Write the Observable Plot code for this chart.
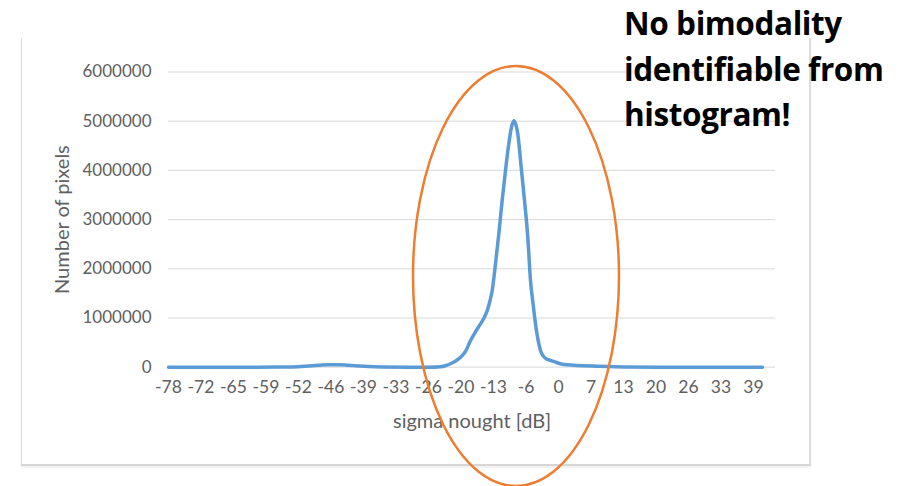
<!DOCTYPE html>
<html>
<head>
<meta charset="utf-8">
<script src="https://cdn.jsdelivr.net/npm/d3@7"></script>
<script src="https://cdn.jsdelivr.net/npm/@observablehq/plot@0.6"></script>
<style>
  html, body { margin: 0; padding: 0; background: #fff; }
  #wrap { position: relative; width: 904px; height: 486px; overflow: hidden; background: #fff; }
  #frame { position: absolute; left: 21px; top: 38px; width: 787px; height: 426px;
           border-left: 1.5px solid #dcdcdc; border-right: 2px solid #dcdcdc; border-bottom: 2px solid #d6d6d6;
           box-shadow: 0 2px 2px rgba(0,0,0,0.06); }
  #chart { position: absolute; left: 0; top: 0; }
  #overlay { position: absolute; left: 0; top: 0; pointer-events: none; }
  #note { position: absolute; left: 624px; top: 0px; font-family: "Open Sans", Lato, sans-serif;
          font-weight: bold; font-size: 31.5px; line-height: 45.5px; color: #000; white-space: nowrap; letter-spacing: -0.4px; }
</style>
</head>
<body>
<div id="wrap">
  <div id="frame"></div>
  <div id="chart"></div>
  <svg id="overlay" width="904" height="486">
    <ellipse cx="516" cy="276" rx="103" ry="210" fill="none" stroke="#ED7D31" stroke-width="2.5"></ellipse>
  </svg>
  <div id="note">No bimodality<br>identifiable from<br>histogram!</div>
</div>
<script>
// sigma nought [dB] bin centres
const sigma = [-78, -70, -60, -55, -52, -50, -48, -46, -44, -42, -40, -38, -35, -30, -26,
  -23.6, -22.5, -21.6, -20.5, -19.6, -18.6, -17.6, -16.6, -15.6, -14.9, -14.26, -13.7, -13.26,
  -12.6, -11.94, -11.26, -10.6, -9.94, -9.4, -8.94, -8.5, -8.14, -7.46, -6.8, -6.14, -5.6,
  -5.1, -4.6, -4.1, -3.6, -3.0, -2.3, -1.6, -0.5, 1.06, 3, 5, 7.74, 10, 14, 20, 30, 40.8];
// number of pixels per bin
const pixels = [0, 0, 0, 3000, 10000, 25000, 38000, 50000, 52000, 40000, 25000, 12000, 4000, 0, 0,
  10000, 35000, 70000, 130000, 200000, 320000, 540000, 720000, 880000, 1000000, 1150000, 1350000, 1560000,
  2100000, 2710000, 3390000, 4000000, 4540000, 4880000, 5010000, 4920000, 4740000, 4060000, 3390000, 2640000, 1760000,
  1300000, 880000, 560000, 340000, 220000, 160000, 140000, 100000, 55000, 40000, 30000, 20000, 12000, 5000, 0, 0, 0];

const xTickPos = [-78, -71.5, -65, -58.5, -52, -45.5, -39, -32.5, -26, -19.5, -13, -6.5, 0, 6.5, 13, 19.5, 26, 32.5, 39];
const xTickLabels = ["-78", "-72", "-65", "-59", "-52", "-46", "-39", "-33", "-26", "-20", "-13", "-6", "0", "7", "13", "20", "26", "33", "39"];
const yTicks = [0, 1000000, 2000000, 3000000, 4000000, 5000000, 6000000];

const data = sigma.map((s, i) => ({sigma: s, pixels: pixels[i]}));
const labelMap = new Map(xTickPos.map((p, i) => [p, xTickLabels[i]]));

const chart = Plot.plot({
  width: 904,
  height: 486,
  marginLeft: 168,
  marginRight: 129,
  marginTop: 71.5,
  marginBottom: 119.3,
  style: {fontFamily: "Lato, 'DejaVu Sans', sans-serif", fontSize: "17px", color: "#606060", background: "transparent"},
  x: {domain: [-78, 43.4]},
  y: {domain: [0, 6000000]},
  marks: [
    Plot.gridY(yTicks, {stroke: "#d9d9d9", strokeOpacity: 1, strokeWidth: 1}),
    Plot.axisY(yTicks, {tickSize: 0, tickPadding: 17, tickFormat: d => String(d), label: null, fill: "#606060"}),
    Plot.axisX(xTickPos, {tickSize: 0, tickPadding: 13, tickFormat: d => labelMap.get(d), label: null, fill: "#606060", fontSize: 17.5}),
    Plot.text(["Number of pixels"], {frameAnchor: "left", textAnchor: "middle", dx: -106, rotate: -90, fill: "#606060", fontSize: 20}),
    Plot.text(["sigma nought [dB]"], {frameAnchor: "bottom", textAnchor: "middle", dy: 61, fill: "#606060", fontSize: 20}),
    Plot.lineY(data, {x: "sigma", y: "pixels", stroke: "#5B9BD5", strokeWidth: 3.5, curve: "monotone-x"})
  ]
});
document.getElementById("chart").appendChild(chart);
</script>
</body>
</html>
